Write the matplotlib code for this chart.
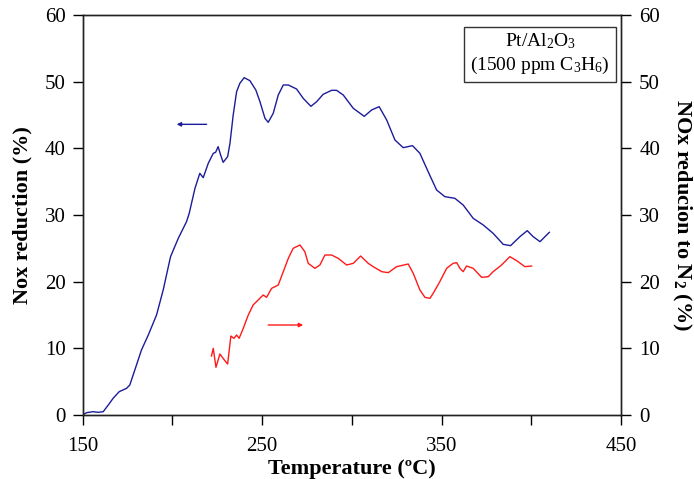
import matplotlib
matplotlib.use("Agg")
import matplotlib.pyplot as plt

plt.rcParams['font.family'] = ['Liberation Serif', 'DejaVu Serif']
plt.rcParams['mathtext.fontset'] = 'custom'
plt.rcParams['mathtext.rm'] = 'Liberation Serif'
plt.rcParams['mathtext.bf'] = 'Liberation Serif:bold'
plt.rcParams['mathtext.default'] = 'regular'

# Blue: NOx reduction (%) vs temperature (left axis)
nox_T = [150, 152.2, 155.9, 158.7, 161.5, 164.3, 167, 170.4, 174.5, 176.3, 179.1, 182.8, 186.6,
         191.2, 194.9, 199, 203.3, 207.9, 209.4, 212.6, 215.3, 217.2, 220, 222.8, 224.1, 225.5,
         226.9, 228.3, 230.8, 232.1, 233.9, 235.8, 237.6, 240, 243.2, 246.5, 248.8, 251.6,
         253.4, 256.2, 259, 261.8, 264.6, 269.2, 272.9, 277.2, 280.4, 284, 288.7, 291.5,
         295.2, 300.8, 306.9, 311, 315.2, 319.4, 324, 328.6, 333.8, 337.9, 342.5, 347.2,
         351.8, 357.4, 362, 367.6, 373.2, 378.7, 384.3, 388.4, 393.6, 397.7, 401, 404.8, 410]
nox_red = [0, 0.35, 0.5, 0.4, 0.5, 1.5, 2.5, 3.5, 4, 4.5, 6.75, 9.75, 12,
           15, 18.75, 23.75, 26.5, 29, 30.25, 34, 36.25, 35.6, 37.75, 39.25, 39.4, 40.25,
           39, 37.9, 38.75, 40.75, 45, 48.5, 49.75, 50.6, 50.15, 48.75, 47, 44.5,
           43.9, 45.25, 48, 49.5, 49.5, 48.9, 47.5, 46.3, 47, 48.1, 48.7, 48.7,
           48, 46, 44.8, 45.75, 46.25, 44.25, 41.25, 40.1, 40.4, 39.25, 36.5, 33.75,
           32.75, 32.5, 31.5, 29.5, 28.5, 27.25, 25.6, 25.4, 26.75, 27.65, 26.75, 26, 27.4]

# Red: NOx reduction to N2 (%) vs temperature (right axis)
n2_T = [221.8, 222.8, 224.3, 226.5, 228.7, 230.8, 232.6, 234.3, 235.8, 237.2, 239.5, 242.3,
        245, 247.8, 250.6, 252.5, 255.3, 259, 261.8, 264.6, 267.3, 271.1, 273.8, 275.7,
        279.4, 282.2, 285, 288.7, 292.4, 297.1, 300.8, 304.9, 309.1, 311.9, 316.6, 320.3,
        324.9, 331.4, 334.2, 337.9, 340.7, 343.5, 345.3, 349, 352.8, 356.4, 358.4, 360.2,
        362, 363.9, 367.6, 372.3, 376, 378.7, 383.4, 388, 391.8, 396.4, 400.1]
n2_red = [8.85, 10, 7.15, 9.15, 8.35, 7.65, 11.85, 11.5, 12, 11.5, 13, 15,
          16.5, 17.25, 18, 17.65, 19, 19.5, 21.5, 23.5, 25, 25.5, 24.5, 22.75,
          22, 22.5, 24, 24, 23.5, 22.5, 22.75, 23.85, 22.75, 22.25, 21.5, 21.35,
          22.25, 22.65, 21.25, 18.75, 17.65, 17.5, 18.25, 20, 22, 22.75, 22.85, 22,
          21.5, 22.35, 22, 20.65, 20.75, 21.5, 22.5, 23.75, 23.15, 22.25, 22.35]

x_ticks = [150, 250, 350, 450]
x_minor = [200, 300, 400]
y_ticks = [0, 10, 20, 30, 40, 50, 60]

fig = plt.figure(figsize=(6.94, 4.79), dpi=100)
ax = fig.add_axes([0.119, 0.1336, 0.776, 0.8351])
ax2 = ax.twinx()

blue = '#1c1c9a'
red = '#ff1a1a'
ax.plot(nox_T, nox_red, color=blue, lw=1.0)
ax2.plot(n2_T, n2_red, color=red, lw=1.0)

ax.set_xlim(150, 450)
ax.set_ylim(0, 60)
ax2.set_ylim(0, 60)
ax.set_xticks(x_ticks)
ax.set_xticks(x_minor, minor=True)
ax.set_yticks(y_ticks)
ax2.set_yticks(y_ticks)

for a in (ax, ax2):
    for s in a.spines.values():
        s.set_linewidth(1.0)
        s.set_color('#222222')
ax.tick_params(axis='x', which='both', direction='out', length=7, width=1, labelsize=15, pad=9)
ax.tick_params(axis='y', direction='out', length=7, width=1, labelsize=15, pad=5)
ax2.tick_params(axis='y', direction='out', length=7, width=1, labelsize=15, pad=6)

ax.set_xlabel('Temperature (ºC)', fontsize=16, fontweight='bold', labelpad=2)
ax.set_ylabel('Nox reduction (%)', fontsize=16, fontweight='bold', labelpad=9)
ax2.set_ylabel(r'NOx reducion to N$_{\mathbf{2}}$ (%)', fontsize=16, fontweight='bold',
               rotation=270, labelpad=24)

# direction arrows
ax.annotate('', xy=(202.4, 43.6), xytext=(219.1, 43.6),
            arrowprops=dict(arrowstyle='-|>', color=blue, lw=1.0, mutation_scale=6,
                            shrinkA=0, shrinkB=0))
ax2.annotate('', xy=(272.9, 13.5), xytext=(253.4, 13.5),
             arrowprops=dict(arrowstyle='-|>', color=red, lw=1.0, mutation_scale=6,
                             shrinkA=0, shrinkB=0))

ax2.text(0.8495, 0.9025, 'Pt/Al$_2$O$_3$\n(1500 ppm C$_3$H$_6$)', transform=ax.transAxes,
         ha='center', va='center', fontsize=14, linespacing=1.25,
         bbox=dict(boxstyle='square,pad=0.3', fc='white', ec='#333333', lw=1.0))

fig.savefig('out.png', dpi=100)
